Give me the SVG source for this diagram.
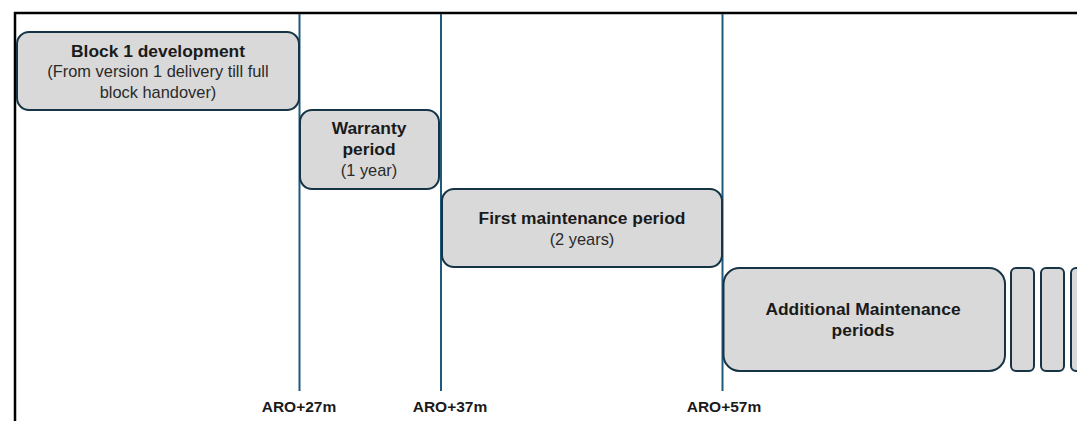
<svg xmlns="http://www.w3.org/2000/svg" width="1077" height="421" viewBox="0 0 1077 421">
<style>
.box{fill:#d9d9d9;stroke:#163446;stroke-width:2}
.vl{stroke:#1f5a7c;stroke-width:2}
.t{font-family:"Liberation Sans",Arial,sans-serif;text-anchor:middle;fill:#1a1a1a}
.b{font-weight:bold;font-size:17.4px}
.r{font-size:16.4px;fill:#2a2a2a}
.lab{font-weight:bold;font-size:15.5px}
</style>
<rect x="0" y="0" width="1077" height="421" fill="#ffffff"/>
<g id="frame">
<line x1="14" y1="13" x2="1077" y2="13" stroke="#000" stroke-width="2.5"/>
<line x1="15" y1="12" x2="15" y2="421" stroke="#000" stroke-width="2.5"/>
</g>
<g id="connectors">
<line class="vl" x1="299.5" y1="14" x2="299.5" y2="391"/>
<line class="vl" x1="441" y1="14" x2="441" y2="391"/>
<line class="vl" x1="722.5" y1="14" x2="722.5" y2="391"/>
</g>
<g id="block1">
<rect class="box" x="17" y="32" width="282" height="78" rx="12"/>
<text class="t b" x="158" y="56.5">Block 1 development</text>
<text class="t r" x="158" y="77">(From version 1 delivery till full</text>
<text class="t r" x="158" y="97.5">block handover)</text>
</g>
<g id="warranty">
<rect class="box" x="300" y="110" width="139" height="79" rx="12"/>
<text class="t b" x="369" y="133.5">Warranty</text>
<text class="t b" x="369" y="154.5">period</text>
<text class="t r" x="369" y="176">(1 year)</text>
</g>
<g id="first-maintenance">
<rect class="box" x="442" y="189" width="280" height="78" rx="12"/>
<text class="t b" x="582" y="223.5">First maintenance period</text>
<text class="t r" x="582" y="244.5">(2 years)</text>
</g>
<g id="additional-maintenance">
<rect class="box" x="723.5" y="268" width="281.5" height="103" rx="16"/>
<text class="t b" x="863" y="315">Additional Maintenance</text>
<text class="t b" x="863" y="336">periods</text>
</g>
<g id="extra1"><rect class="box" x="1011" y="268" width="23" height="103" rx="5"/></g>
<g id="extra2"><rect class="box" x="1041" y="268" width="23" height="103" rx="5"/></g>
<g id="extra3"><rect class="box" x="1071" y="268" width="23" height="103" rx="5"/></g>
<g id="labels">
<text class="t lab" x="299" y="412">ARO+27m</text>
<text class="t lab" x="450" y="412">ARO+37m</text>
<text class="t lab" x="724" y="412">ARO+57m</text>
</g>
</svg>
